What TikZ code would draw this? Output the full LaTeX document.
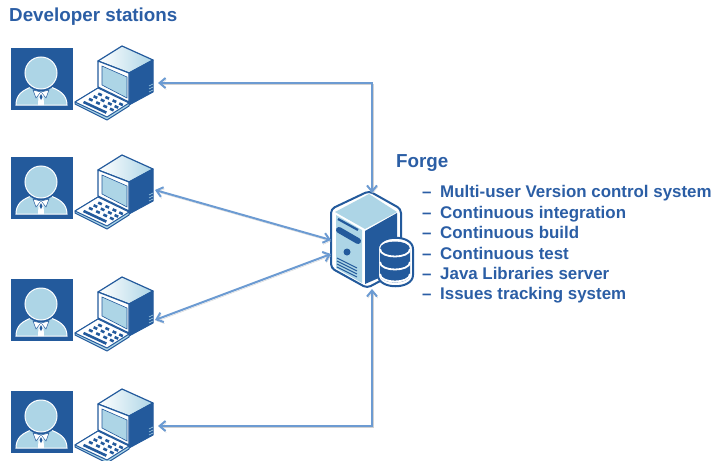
\documentclass[tikz,border=0pt]{standalone}
\usepackage{fontspec}
\setmainfont{Liberation Sans}
\usetikzlibrary{arrows.meta}
\definecolor{p1}{HTML}{235A9C}
\definecolor{p2}{HTML}{ADD5E6}
\definecolor{p3}{HTML}{6C9BD2}
\definecolor{p4}{HTML}{2B5EA5}
\tikzset{
  link/.style={p3, line width=2pt, {Straight Barb[length=6pt,width=10pt]}-{Straight Barb[length=6pt,width=10pt]},
    preaction={draw=black!18, transform canvas={shift={(0.8,1.6)}}}},
  title/.style={p4, anchor=base west, inner sep=0pt, font=\fontsize{18.8}{20}\selectfont\bfseries},
  item/.style={p4, anchor=base west, inner sep=0pt, font=\fontsize{16.9}{18}\selectfont\bfseries},
  pics/station/.style={code={
    % user
    \fill[p1] (11,48) rectangle (73,110);
    \draw[white, fill=p2, line width=1pt] (16,105) .. controls (16,95) and (22,90) .. (34,86) -- (48,86) .. controls (60,90) and (67,95) .. (67,105) -- cycle;
    \draw[p1, line width=2.4pt] (41,73) circle (17);
    \draw[white, fill=p2, line width=1pt] (41,73) circle (16);
    \draw[p1, fill=white, line width=0.5pt] (33,90) -- (41,92) -- (36,98) -- cycle;
    \draw[p1, fill=white, line width=0.5pt] (49,90) -- (41,92) -- (46,98) -- cycle;
    \fill[white] (41,92) -- (43.5,96) -- (44,105) -- (38,105) -- (38.5,96) -- cycle;
    \fill[p1] (41,94) -- (42.5,97) -- (41,100) -- (39.5,97) -- cycle;
    % computer
    \draw[p1, left color=white, right color=p2, line width=1.2pt, line join=round] (98,61) -- (122,46) -- (153,60) -- (129,73) -- cycle;
    \draw[p1, fill=p1, line width=1pt, line join=round] (129,73) -- (153,60) -- (153,92) -- (129,105) -- cycle;
    \draw[p1, fill=white, line width=1.2pt, line join=round] (98,61) -- (129,73) -- (129,102) -- (98,87) -- cycle;
    \draw[p1, fill=p2, line width=0.6pt] (102,66) -- (127,77) -- (127,98) -- (102,85) -- cycle;
    \draw[p1, fill=p2, line width=1pt, line join=round] (75,104) -- (107,120) -- (129,106) -- (129,103) -- (98,88) -- (75,102) -- cycle;
    \draw[p1, fill=white, line width=1pt, line join=round] (75,102) -- (98,88) -- (129,103) -- (107,117) -- cycle;
    % keys
    \draw[p1, line width=2.6pt] ({77+21*.14+30*.12},{102-12*.14+14*.12}) -- ({77+21*.14+30*.88},{102-12*.14+14*.88});
    \foreach \t in {0.4,0.62,0.84} \foreach \v in {0.12,0.36,0.6,0.82}
      \draw[p1, line width=2.6pt] ({77+21*\t+30*\v},{102-12*\t+14*\v}) -- ({77+21*\t+30*(\v+0.12)},{102-12*\t+14*(\v+0.12)});
    \foreach \y in {85,88,91} \draw[p2, line width=0.6pt] (149,\y+1) -- (153,\y-1);
  }}
}
\begin{document}
\begin{tikzpicture}[x=1pt,y=-1pt]
\useasboundingbox (0,0) rectangle (714,460);

\node[title] (devtitle) at (9,22) {Developer stations};
\pic at (0,0) {station};
\pic at (0,109) {station};
\pic at (0,231) {station};
\pic at (0,343) {station};

% server
\draw[p1, fill=white, line width=2pt, rounded corners=4pt] (369,191) -- (401,209) -- (401,270) -- (367,288) -- (331,268) -- (331,209) -- cycle;
\fill[p2] (335,212) -- (369,194) -- (397,212) -- (365,229) -- cycle;
\fill[p2] (336,215) -- (362,230) -- (362,283) -- (336,268) -- cycle;
\fill[p1] (365,231) -- (397,213) -- (397,270) -- (365,284) -- cycle;
\draw[p1, line width=2.2pt] (338,219) -- (358,230);
\draw[p1, line width=6pt, line cap=round] (339,230) -- (358,241);
\fill[p1] (347,252) circle (3.5);
\foreach \y in {0,3,6,9} \draw[p1, line width=0.9pt] (337,258+\y) -- (357,268+\y);

% database
\draw[p1, fill=white, line width=2pt] (378,249) .. controls (378,234) and (413,234) .. (413,249) -- (413,275) .. controls (413,290) and (378,290) .. (378,275) -- cycle;
\fill[p1] (380,249) .. controls (380,239) and (410,239) .. (410,249) -- (410,275) .. controls (410,285) and (380,285) .. (380,275) -- cycle;
\draw[white, line width=1.8pt] (380,249) .. controls (380,259) and (410,259) .. (410,249);
\draw[white, line width=1.8pt] (380,262) .. controls (380,272) and (410,272) .. (410,262);
\draw[white, line width=1.8pt] (380,274) .. controls (380,284) and (410,284) .. (410,274);

\coordinate (pc1) at (158,83);
\coordinate (pc2) at (155,190);
\coordinate (pc3) at (155,320);
\coordinate (pc4) at (158,426);
\coordinate (forgetop) at (372,193);
\coordinate (forgeleft1) at (331,240);
\coordinate (forgeleft2) at (331,254);
\coordinate (forgebottom) at (372,289);

\draw[link] (pc1) -| (forgetop);
\draw[link] (pc2) -- (forgeleft1);
\draw[link] (pc3) -- (forgeleft2);
\draw[link] (pc4) -| (forgebottom);

\node[title] (forge) at (396,167) {Forge};
\foreach \n/\y/\txt in {a/197/Multi-user Version control system, b/218/Continuous integration, c/238/Continuous build, d/259/Continuous test, e/279/Java Libraries server, f/299/Issues tracking system}{
  \node[item] (dash\n) at (422,\y) {–};
  \node[item] (item\n) at (440,\y) {\txt};
}
\end{tikzpicture}
\end{document}
